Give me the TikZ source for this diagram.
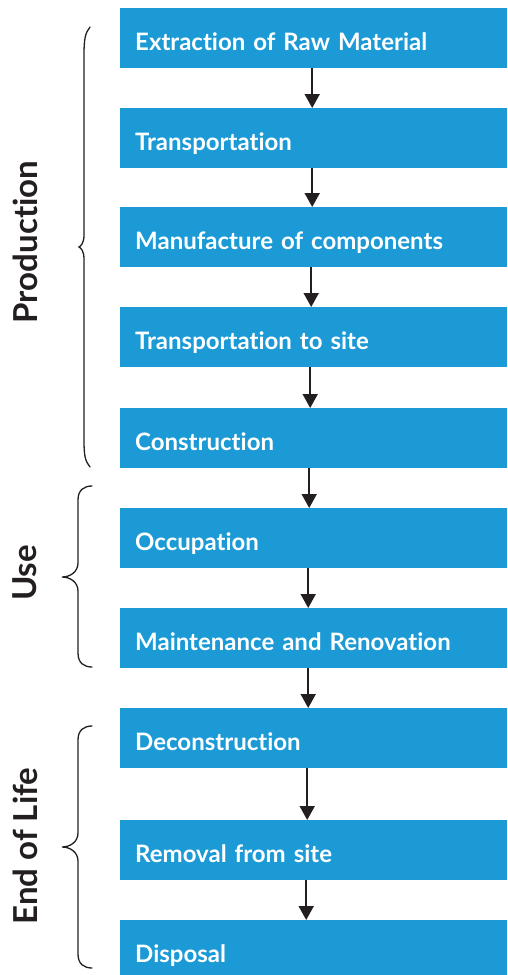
\documentclass[tikz,border=0pt]{standalone}
\usepackage{fontspec}
\setmainfont{Lato}[Ligatures=NoCommon]
\usetikzlibrary{arrows.meta}
\definecolor{boxblue}{RGB}{27,154,214}
\definecolor{ink}{RGB}{35,31,32}
\begin{document}
\begin{tikzpicture}[x=1pt,y=-1pt,
  stage/.style={fill=boxblue, text=white, anchor=north west,
    font=\bfseries\fontsize{24}{28}\selectfont,
    text width=357pt, inner xsep=15pt, inner ysep=0pt, align=left,
    minimum height=60pt, text height=24pt, text depth=0pt},
  flow/.style={draw=ink, line width=1.8pt, -{Triangle[width=15pt,length=14pt]}},
  brace/.style={draw=ink, line width=1.3pt, line cap=round},
  phase/.style={text=ink, font=\bfseries\fontsize{33}{38}\selectfont, rotate=90}]
\useasboundingbox (0,0) rectangle (507,975);

% life-cycle stages
\node[stage] (s1)  at (120,8)   {Extraction of Raw Material};
\node[stage] (s2)  at (120,108) {Transportation};
\node[stage] (s3)  at (120,207) {Manufacture of components};
\node[stage] (s4)  at (120,307) {Transportation to site};
\node[stage] (s5)  at (120,408) {Construction};
\node[stage] (s6)  at (120,508) {Occupation};
\node[stage] (s7)  at (120,608) {Maintenance and Renovation};
\node[stage] (s8)  at (120,708) {Deconstruction};
\node[stage] (s9)  at (120,820) {Removal from site};
\node[stage] (s10) at (120,920) {Disposal};

% flow between stages
\draw[flow] ([xshift=-1.5pt]s1.south) -- ([xshift=-1.5pt]s2.north);
\draw[flow] ([xshift=-1.5pt]s2.south) -- ([xshift=-1.5pt]s3.north);
\draw[flow] ([xshift=-2.5pt]s3.south) -- ([xshift=-2.5pt]s4.north);
\draw[flow] ([xshift=-3.5pt]s4.south) -- ([xshift=-3.5pt]s5.north);
\draw[flow] ([xshift=-4.5pt]s5.south) -- ([xshift=-4.5pt]s6.north);
\draw[flow] ([xshift=-5.5pt]s6.south) -- ([xshift=-5.5pt]s7.north);
\draw[flow] ([xshift=-5.5pt]s7.south) -- ([xshift=-5.5pt]s8.north);
\draw[flow] ([xshift=-6.5pt]s8.south) -- ([xshift=-6.5pt]s9.north);
\draw[flow] ([xshift=-7.5pt]s9.south) -- ([xshift=-7.5pt]s10.north);

% phase braces
\draw[brace] (90,27) .. controls (85,33) and (84,40) .. (84,55) -- (84,235)
  .. controls (84,243) and (81,246) .. (79,247)
  .. controls (81,248) and (84,251) .. (84,259) -- (84,440)
  .. controls (84,455) and (85,461) .. (90,467);
\draw[brace] (92,486) .. controls (84,486) and (78,490) .. (78,500) -- (78,563)
  .. controls (78,572) and (70,577) .. (62,577)
  .. controls (70,577) and (78,582) .. (78,591) -- (78,653)
  .. controls (78,663) and (84,667) .. (92,667);
\draw[brace] (92,726) .. controls (84,726) and (78,730) .. (78,740) -- (78,833)
  .. controls (78,842) and (70,847) .. (62,847)
  .. controls (70,847) and (78,852) .. (78,861) -- (78,954)
  .. controls (78,964) and (84,968) .. (92,968);

% phase labels
\node[phase] (pProd) at (25,242) {Production};
\node[phase] (pUse)  at (25,573) {Use};
\node[phase] (pEnd)  at (25,846) {End of Life};
\end{tikzpicture}
\end{document}
